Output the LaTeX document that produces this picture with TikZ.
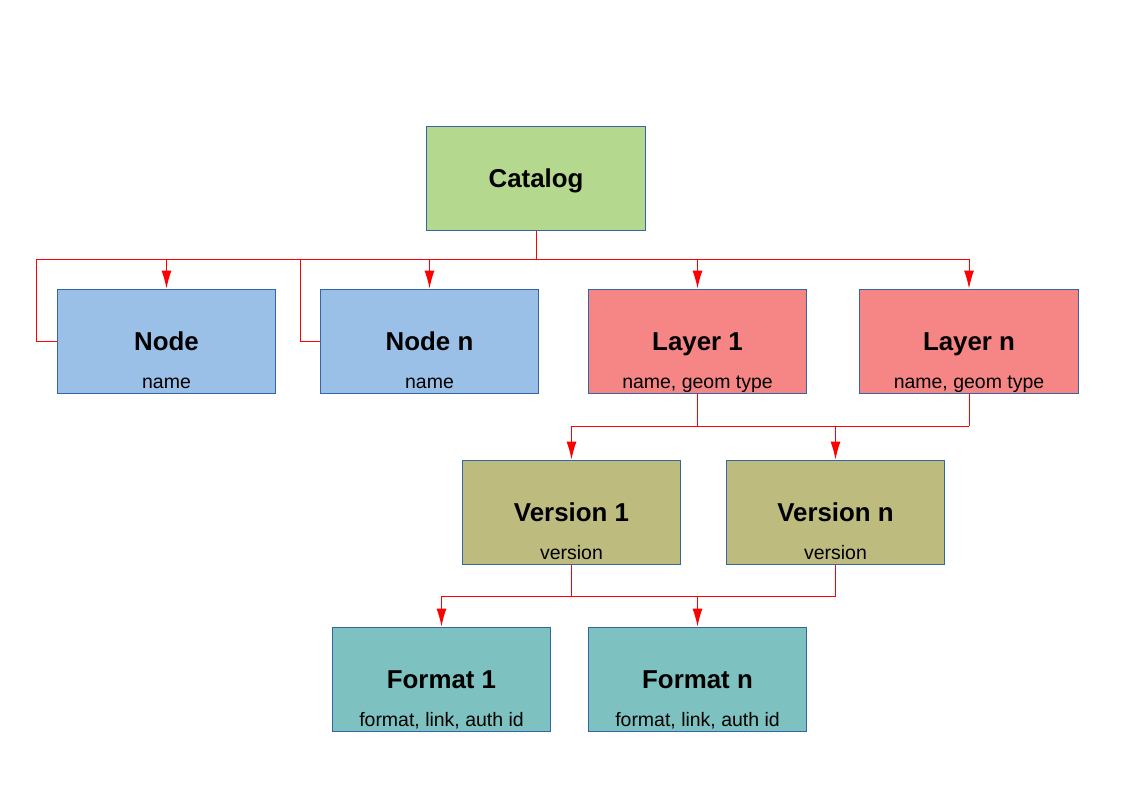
\documentclass[tikz,border=0pt]{standalone}
\usepackage{fontspec}
\setmainfont{Liberation Sans}
\usetikzlibrary{arrows.meta,positioning}
\definecolor{boxline}{HTML}{3465A4}
\definecolor{catgreen}{HTML}{B4D98E}
\definecolor{nodeblue}{HTML}{9BC0E8}
\definecolor{layerred}{HTML}{F68686}
\definecolor{versolive}{HTML}{BDBB7E}
\definecolor{formteal}{HTML}{7DC1C0}
\tikzset{
  box/.style={draw=boxline, line width=0.75pt, minimum width=164pt, minimum height=78pt,
    inner sep=0pt, text height=14pt, text depth=0pt,
    font=\bfseries\fontsize{19.4}{22}\selectfont},
  sub/.style={label={[anchor=base, yshift=4pt, inner sep=0pt,
    font=\mdseries\fontsize{14.6}{17}\selectfont]south:#1}},
  link/.style={red, line width=0.75pt},
}

\begin{document}
\begin{tikzpicture}[x=0.75pt, y=-0.75pt, >={Latex[length=13.5pt,width=7.5pt]}]
\useasboundingbox (0,0) rectangle (1123,794);
% boxes
\node [box, fill=catgreen] (cat) at (536,178) {Catalog};
\node [box, fill=nodeblue, sub=name] (node1) at (166.5,341) {Node};
\node [box, fill=nodeblue, sub=name] (noden) at (429.5,341) {Node n};
\node [box, fill=layerred, sub={name, geom type}] (lay1) at (697.5,341) {Layer 1};
\node [box, fill=layerred, sub={name, geom type}] (layn) at (969,341) {Layer n};
\node [box, fill=versolive, sub=version] (ver1) at (571.5,512) {Version 1};
\node [box, fill=versolive, sub=version] (vern) at (835.5,512) {Version n};
\node [box, fill=formteal, sub={format, link, auth id}] (form1) at (441.5,679) {Format 1};
\node [box, fill=formteal, sub={format, link, auth id}] (formn) at (697.5,679) {Format n};
% bus lines
\coordinate (bus1) at (536,259);
\coordinate (loop1) at (36,259);
\coordinate (loopn) at (300,259);
\coordinate (bus2) at (697.5,426);
\coordinate (bus3) at (571.5,596);
% catalog to children
\draw [link] (cat.south) -- (bus1);
\draw [link] (loop1) -- (layn.north |- bus1);
\draw [link] (loop1) |- (node1.west);
\draw [link] (loopn) |- (noden.west);
\foreach \n in {node1,noden,lay1,layn}
  \draw [link,->] (\n.north |- bus1) -- (\n.north);
% layers to versions
\draw [link] (lay1.south) -- (bus2);
\draw [link] (layn.south) -- (layn.south |- bus2);
\draw [link] (ver1.north |- bus2) -- (layn.south |- bus2);
\foreach \n in {ver1,vern}
  \draw [link,->] (\n.north |- bus2) -- (\n.north);
% versions to formats
\draw [link] (ver1.south) -- (bus3);
\draw [link] (vern.south) -- (vern.south |- bus3);
\draw [link] (form1.north |- bus3) -- (vern.south |- bus3);
\foreach \n in {form1,formn}
  \draw [link,->] (\n.north |- bus3) -- (\n.north);
\end{tikzpicture}
\end{document}
